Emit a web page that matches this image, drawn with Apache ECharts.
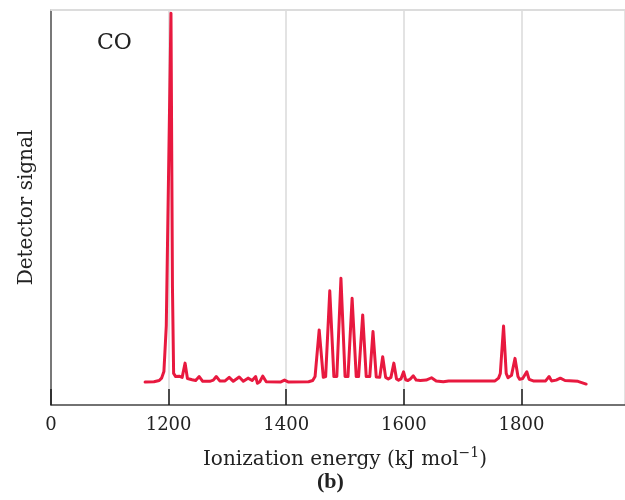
<!DOCTYPE html>
<html>
<head>
<meta charset="utf-8">
<title>CO photoelectron spectrum</title>
<script src="https://cdn.jsdelivr.net/npm/echarts@6/dist/echarts.min.js"></script>
<style>
  html, body { margin: 0; padding: 0; background: #fff; }
  #chart { width: 625px; height: 500px; }
</style>
</head>
<body>
<div id="chart"></div>
<script>
// Photoelectron spectrum of CO: ionization energy (kJ/mol) vs detector signal
const energy = [
  1160, 1175, 1184, 1188, 1192, 1196, 1204, 1206.5, 1208.5, 1212,
  1218, 1223, 1228, 1232, 1240, 1246, 1252, 1258, 1270, 1276,
  1281, 1287, 1296, 1303, 1310, 1320, 1327, 1335, 1342, 1348,
  1351, 1355, 1360, 1366, 1390, 1397, 1404, 1438, 1445, 1449,
  1456, 1463, 1465, 1467, 1474, 1481, 1483.5, 1486, 1493, 1500,
  1502.5, 1505, 1512, 1519, 1521, 1523, 1530, 1536, 1539, 1542,
  1547.5, 1553, 1556, 1559, 1564, 1569, 1573.5, 1578, 1583, 1587.5,
  1591, 1595, 1599.5, 1603, 1607, 1611, 1616, 1621, 1628, 1638,
  1647, 1655, 1667, 1676, 1755, 1761, 1764, 1769.5, 1774, 1777,
  1780, 1783, 1789, 1794, 1797, 1802, 1804, 1809, 1813, 1820,
  1841, 1847, 1851, 1859, 1866, 1874, 1896, 1910
];
const signal = [
  5.8, 5.9, 6.2, 6.8, 8.5, 20, 99.2, 30, 8.0, 7.2,
  7.3, 7.0, 10.6, 6.7, 6.4, 6.2, 7.2, 6.0, 6.0, 6.3,
  7.2, 6.1, 6.1, 7.0, 6.0, 7.1, 6.0, 6.8, 6.2, 7.2,
  5.5, 5.9, 7.3, 5.9, 5.8, 6.3, 5.8, 5.9, 6.2, 7.2,
  19, 7.0, 6.7, 7.2, 28.9, 7.2, 6.7, 7.2, 32.1, 7.2,
  6.7, 7.2, 27, 7.2, 6.7, 7.2, 22.8, 7.2, 6.7, 7.2,
  18.6, 7.1, 6.7, 7.0, 12.2, 7.0, 6.6, 7.0, 10.6, 6.6,
  6.3, 6.6, 8.4, 6.4, 6.2, 6.6, 7.4, 6.3, 6.2, 6.3,
  6.9, 6.1, 5.9, 6.1, 6.1, 6.8, 8.0, 20, 8.0, 6.9,
  7.1, 7.5, 11.8, 7.2, 6.5, 6.7, 7.1, 8.4, 6.5, 6.1,
  6.1, 7.2, 6.1, 6.3, 6.8, 6.2, 6.0, 5.3
];
const tickValues = [1000, 1200, 1400, 1600, 1800];
const tickLabels = ['0', '1200', '1400', '1600', '1800'];

const points = energy.map((e, i) => [e, signal[i]]);

const chart = echarts.init(document.getElementById('chart'), null, { renderer: 'canvas' });

chart.setOption({
  animation: false,
  backgroundColor: '#ffffff',
  grid: { left: 51, right: -2, top: 10, bottom: 95, containLabel: false },
  xAxis: [
    {
      // bottom axis: labels, dark inward ticks, title
      type: 'value',
      min: 1000,
      max: 1976,
      interval: 200,
      position: 'bottom',
      z: 5,
      name: '{t|Ionization energy (kJ mol}{s|\u22121}{t|)}',
      nameLocation: 'middle',
      nameGap: 41,
      nameTextStyle: {
        padding: [0, 0, 0, 14],
        rich: {
          t: { fontFamily: 'DejaVu Serif', fontSize: 20, color: '#222', verticalAlign: 'bottom', lineHeight: 24 },
          s: { fontFamily: 'DejaVu Serif', fontSize: 14, color: '#222', verticalAlign: 'top', lineHeight: 24, padding: [0, 0, 10, 0] }
        }
      },
      axisLine: { show: true, lineStyle: { color: '#444', width: 1.5 } },
      axisTick: { show: true, inside: true, length: 16, lineStyle: { color: '#1a1a1a', width: 1.5 } },
      splitLine: { show: false },
      axisLabel: {
        margin: 11,
        fontFamily: 'DejaVu Serif',
        fontSize: 18,
        color: '#222',
        showMaxLabel: false,
        formatter: v => {
          const k = tickValues.indexOf(v);
          return k >= 0 ? tickLabels[k] : '';
        }
      }
    },
    {
      // top frame line plus the light vertical grid lines
      type: 'value',
      min: 1000,
      max: 1976,
      interval: 200,
      position: 'top',
      z: 0,
      axisLine: { show: true, lineStyle: { color: '#dcdcdc', width: 2 } },
      axisTick: { show: false },
      axisLabel: { show: false },
      splitLine: { show: true, lineStyle: { color: '#dadada', width: 1.5 } }
    }
  ],
  yAxis: {
    type: 'value',
    min: 0,
    max: 100,
    name: 'Detector signal',
    nameLocation: 'middle',
    nameGap: 14,
    nameRotate: 90,
    nameTextStyle: { fontFamily: 'DejaVu Serif', fontSize: 20, color: '#222' },
    axisLine: { show: true, lineStyle: { color: '#555', width: 1.5 } },
    axisTick: { show: false },
    axisLabel: { show: false },
    splitLine: { show: false }
  },
  graphic: [
    { type: 'text', left: 97, top: 32, style: { text: 'CO', fontFamily: 'DejaVu Serif', fontSize: 22, fill: '#222' } },
    { type: 'text', left: 317, top: 471, style: { text: '(b)', fontFamily: 'Liberation Serif', fontWeight: 'bold', fontSize: 22, fill: '#222' } }
  ],
  series: [
    {
      type: 'line',
      xAxisIndex: 0,
      data: points,
      showSymbol: false,
      smooth: false,
      lineStyle: { color: '#e8193f', width: 3, join: 'round', cap: 'round' }
    }
  ]
});
</script>
</body>
</html>
